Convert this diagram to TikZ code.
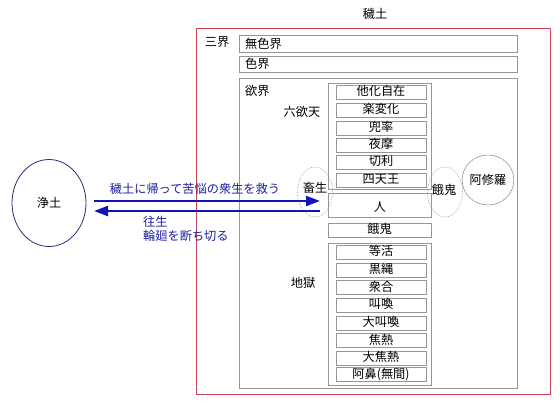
\documentclass[tikz,border=0pt]{standalone}
\usepackage{fontspec}
\setmainfont{Noto Sans CJK JP}
\usetikzlibrary{arrows.meta,shapes.geometric}
\definecolor{framered}{RGB}{200,70,90}
\definecolor{boxgray}{RGB}{150,150,150}
\definecolor{arrowblue}{RGB}{20,20,180}
\definecolor{textblue}{RGB}{30,30,160}
\definecolor{jodoc}{RGB}{50,40,120}
\begin{document}
\begin{tikzpicture}[x=1pt,y=-1pt,
  font=\fontsize{12.2}{14}\selectfont,
  gbox/.style={draw=boxgray, line width=0.8pt, inner sep=0pt, text height=9pt, text depth=2pt},
  lbl/.style={inner sep=0pt},
  dotell/.style={ellipse, draw=boxgray, densely dotted, line width=0.6pt, inner sep=0pt},
  solell/.style={ellipse, draw=boxgray, line width=0.6pt, inner sep=0pt},
  barrow/.style={draw=arrowblue, line width=2.2pt, -{Triangle[length=14pt,width=10pt]}},
  btext/.style={text=textblue, inner sep=0pt}]
\useasboundingbox (0,0) rectangle (560,405);
% frame
\node[draw=framered, line width=0.8pt, minimum width=354pt, minimum height=366pt, inner sep=0pt] (edo) at (373,211) {};
\node[lbl] (edot) at (375,14) {穢土};
\node[lbl] (sangai) at (217,42) {三界};
% realms
\node[gbox, minimum width=278pt, minimum height=17pt] (mushiki) at (378,43.5) {};
\node[lbl, anchor=west] (mushikit) at (245,44) {無色界};
\node[gbox, minimum width=278pt, minimum height=16pt] (shiki) at (378,64) {};
\node[lbl, anchor=west] (shikit) at (245,64) {色界};
\node[gbox, minimum width=278pt, minimum height=310pt] (yoku) at (378,233) {};
\node[lbl, anchor=west] (yokut) at (245,91) {欲界};
% six heavens
\node[gbox, minimum width=103pt, minimum height=106pt] (ten) at (379.5,136) {};
\node[lbl] (tent) at (302,112) {六欲天};
\node[gbox, minimum width=90pt, minimum height=14pt] (t1) at (381,92) {他化自在};
\node[gbox, minimum width=90pt, minimum height=14pt] (t2) at (381,110) {楽変化};
\node[gbox, minimum width=90pt, minimum height=14pt] (t3) at (381,128) {兜率};
\node[gbox, minimum width=90pt, minimum height=14pt] (t4) at (381,145) {夜摩};
\node[gbox, minimum width=90pt, minimum height=14pt] (t5) at (381,162) {切利};
\node[gbox, minimum width=90pt, minimum height=14pt] (t6) at (381,180) {四天王};
\node[gbox, minimum width=103pt, minimum height=24pt] (hito) at (379.5,205) {};
\node[lbl] (hitot) at (380,207) {人};
\node[gbox, minimum width=103pt, minimum height=14pt] (gakib) at (379.5,230) {餓鬼};
% hells
\node[gbox, minimum width=103pt, minimum height=142pt] (jigoku) at (379.5,314) {};
\node[lbl] (jigokut) at (303,283) {地獄};
\node[gbox, minimum width=90pt, minimum height=14pt] (h1) at (381,252) {等活};
\node[gbox, minimum width=90pt, minimum height=14pt] (h2) at (381,270) {黒縄};
\node[gbox, minimum width=90pt, minimum height=14pt] (h3) at (381,287.5) {衆合};
\node[gbox, minimum width=90pt, minimum height=14pt] (h4) at (381,305) {叫喚};
\node[gbox, minimum width=90pt, minimum height=14pt] (h5) at (381,323) {大叫喚};
\node[gbox, minimum width=90pt, minimum height=14pt] (h6) at (381,340.5) {焦熱};
\node[gbox, minimum width=90pt, minimum height=14pt] (h7) at (381,358) {大焦熱};
\node[gbox, minimum width=90pt, minimum height=14pt] (h8) at (381,374.5) {阿鼻(無間)};
% ellipses
\node[dotell, minimum width=35pt, minimum height=50pt] (chiku) at (315,192) {};
\node[lbl] (chikut) at (315,188) {畜生};
\node[dotell, minimum width=35pt, minimum height=50pt] (gaki) at (445,192) {};
\node[lbl] (gakit) at (444,190) {餓鬼};
\node[solell, minimum width=44pt, minimum height=50pt] (ashura) at (488,180) {阿修羅};
% pure land
\node[ellipse, draw=jodoc, line width=0.8pt, minimum width=74pt, minimum height=87pt, inner sep=0pt] (jodo) at (49,203) {浄土};
% arrows
\coordinate (a1s) at (94,201);
\coordinate (a1e) at (320,201);
\coordinate (a2s) at (320,211);
\coordinate (a2e) at (94,211);
\draw[barrow] (a1s) -- (a1e);
\draw[barrow] (a2s) -- (a2e);
\node[btext] (gensou) at (195,189) {穢土に帰って苦悩の衆生を救う};
\node[btext, anchor=north west, align=left] (ousou) at (143,216) {往生\\輪廻を断ち切る};
\end{tikzpicture}
\end{document}
